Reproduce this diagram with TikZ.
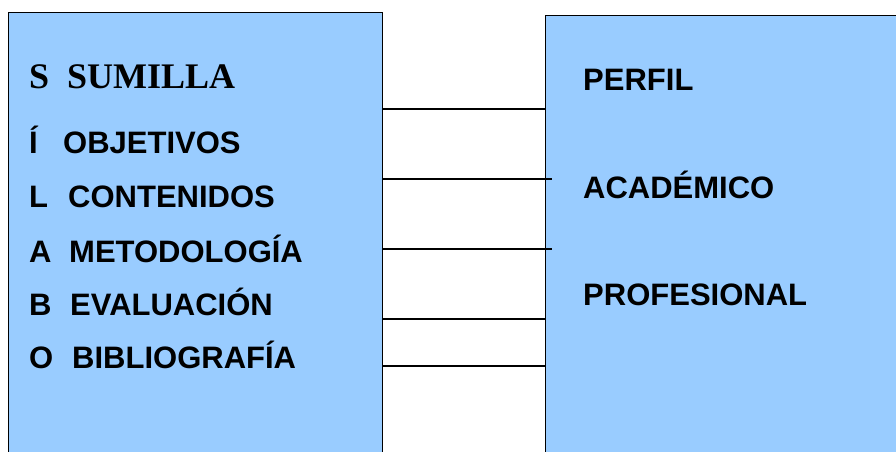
\documentclass[tikz,border=0pt]{standalone}
\usepackage{fontspec}
\setmainfont{Liberation Sans}
\newfontfamily\serifbf{Liberation Serif}
\definecolor{boxblue}{HTML}{99CCFF}
\begin{document}
\begin{tikzpicture}[x=1pt,y=-1pt,
  panel/.style={draw=black,line width=1.3pt,fill=boxblue,rectangle,inner sep=0,anchor=north west},
  lbl/.style={anchor=base west,inner sep=0,font=\fontsize{31}{31}\selectfont\bfseries},
  ser/.style={anchor=base west,inner sep=0,font=\fontsize{36}{36}\selectfont\serifbf\bfseries},
  link/.style={draw=black,line width=1.3pt}]
\useasboundingbox (0,0) rectangle (896,452);
\node[panel,minimum width=374pt,minimum height=460pt] (L) at (8,12) {};
\node[panel,minimum width=370pt,minimum height=460pt] (R) at (545,15) {};
% left texts
\node[ser] (s1) at (29,88) {S};
\node[ser] (w1) at (67,88) {SUMILLA};
\node[lbl] (s2) at (29,153) {Í};
\node[lbl] (w2) at (63,153) {OBJETIVOS};
\node[lbl] (s3) at (29,207) {L};
\node[lbl] (w3) at (68,207) {CONTENIDOS};
\node[lbl] (s4) at (29,262) {A};
\node[lbl] (w4) at (69,262) {METODOLOGÍA};
\node[lbl] (s5) at (29,315) {B};
\node[lbl] (w5) at (70,315) {EVALUACIÓN};
\node[lbl] (s6) at (29,368) {O};
\node[lbl] (w6) at (72,368) {BIBLIOGRAFÍA};
% right texts
\node[lbl] (r1) at (583,90) {PERFIL};
\node[lbl] (r2) at (583,198) {ACADÉMICO};
\node[lbl] (r3) at (583,305) {PROFESIONAL};
% connectors
\draw[link] (L.east |- {0,109}) -- (R.west |- {0,109});
\draw[link] (L.east |- {0,179}) -- ([xshift=7pt]R.west |- {0,179});
\draw[link] (L.east |- {0,249}) -- ([xshift=7pt]R.west |- {0,249});
\draw[link] (L.east |- {0,319}) -- (R.west |- {0,319});
\draw[link] (L.east |- {0,366}) -- (R.west |- {0,366});
\end{tikzpicture}
\end{document}
